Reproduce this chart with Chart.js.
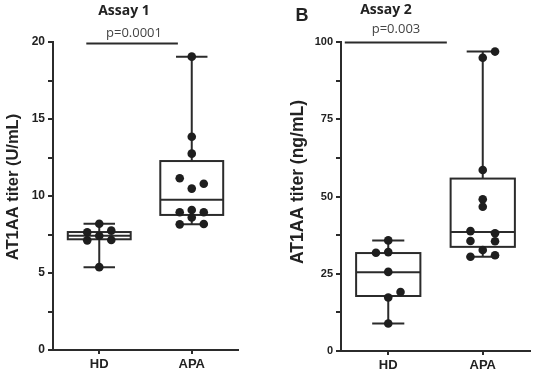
<!DOCTYPE html>
<html lang="en">
<head>
<meta charset="UTF-8">
<title>AT1AA titer</title>
<style>
    body { margin: 0; background: #fff; }
    .wrap { position: relative; width: 540px; height: 374px; }
    canvas { position: absolute; top: 0; }
    #assay1 { left: 0; }
    #assay2 { left: 270px; }
</style>
</head>
<body>
<div class="wrap">
    <canvas id="assay1" width="270" height="374"></canvas>
    <canvas id="assay2" width="270" height="374"></canvas>
</div>
<script src="https://cdn.jsdelivr.net/npm/chart.js"></script>
<script>
// groups
const groups = ['HD', 'APA'];

// Assay 1 (U/mL) - individual values and swarm lane of each dot
const hd1 = [8.2, 7.75, 7.64, 7.42, 7.14, 7.12, 5.38];
const hd1Lane = [0, 1, -1, 0, 1, -1, 0];
const apa1 = [19.05, 13.85, 12.75, 11.15, 10.8, 10.48, 9.09, 8.94, 8.94, 8.6, 8.18, 8.16];
const apa1Lane = [0, 0, 0, -1, 1, 0, 0, -1, 1, 0, 1, -1];
// box stats: min, q1, median, q3, max
const hd1Box = [5.38, 7.19, 7.42, 7.66, 8.2];
const apa1Box = [8.16, 8.77, 9.76, 12.27, 19.05];

// Assay 2 (ng/mL)
const hd2 = [35.8, 32.0, 31.8, 25.6, 19.1, 17.3, 8.9];
const hd2Lane = [0, 0, -1, 0, 1, 0, 0];
const apa2 = [96.9, 94.9, 58.6, 49.1, 46.7, 38.8, 38.1, 35.6, 35.5, 32.7, 31.0, 30.5];
const apa2Lane = [1, 0, 0, 0, 0, -1, 1, -1, 1, 0, 1, -1];
const hd2Box = [8.9, 17.8, 25.5, 31.7, 35.8];
const apa2Box = [30.5, 33.7, 38.5, 55.8, 96.9];

const INK = '#2b2b2b';
const LANE_W = 0.13;
const BOX_HALF = 0.34;
const CAP_HALF = 0.17;

function dots(values, lanes, pos) {
    return values.map((v, i) => ({ x: pos + lanes[i] * LANE_W, y: v }));
}

const boxPlugin = {
    id: 'boxes',
    beforeDatasetsDraw(chart) {
        const { ctx } = chart;
        const xs = chart.scales.x, ys = chart.scales.y;
        const boxes = chart.options.plugins.boxes.data;
        ctx.save();
        ctx.strokeStyle = INK;
        ctx.lineWidth = 2;
        boxes.forEach((b, i) => {
            const cx = xs.getPixelForValue(i + 1);
            const half = xs.getPixelForValue(i + 1 + BOX_HALF) - cx;
            const cap = xs.getPixelForValue(i + 1 + CAP_HALF) - cx;
            const [mn, q1, md, q3, mx] = b.map(v => ys.getPixelForValue(v));
            // whiskers
            ctx.beginPath();
            ctx.moveTo(cx, mn); ctx.lineTo(cx, q1);
            ctx.moveTo(cx, q3); ctx.lineTo(cx, mx);
            ctx.moveTo(cx - cap, mn); ctx.lineTo(cx + cap, mn);
            ctx.moveTo(cx - cap, mx); ctx.lineTo(cx + cap, mx);
            ctx.stroke();
            ctx.fillStyle = '#fff';
            ctx.fillRect(cx - half, q3, half * 2, q1 - q3);
            ctx.strokeRect(cx - half, q3, half * 2, q1 - q3);
            ctx.beginPath();
            ctx.moveTo(cx - half, md); ctx.lineTo(cx + half, md);
            ctx.stroke();
        });
        ctx.restore();
    },
    afterDraw(chart) {
        const { ctx } = chart;
        const o = chart.options.plugins.boxes;
        const xs = chart.scales.x, ys = chart.scales.y;
        ctx.save();
        // significance bar
        ctx.strokeStyle = INK;
        ctx.lineWidth = 2;
        ctx.beginPath();
        const yb = ys.getPixelForValue(o.bar.y);
        ctx.moveTo(xs.getPixelForValue(o.bar.from), yb);
        ctx.lineTo(xs.getPixelForValue(o.bar.to), yb);
        ctx.stroke();
        ctx.fillStyle = '#222';
        ctx.textAlign = 'center';
        ctx.textBaseline = 'middle';
        ctx.font = 'bold 14px "Open Sans"';
        ctx.fillText(o.title, o.titleAt[0], o.titleAt[1]);
        ctx.fillStyle = '#444';
        ctx.font = '13px "Open Sans"';
        ctx.fillText(o.pText, o.pAt[0], o.pAt[1]);
        if (o.letter) {
            ctx.fillStyle = '#222';
            ctx.font = 'bold 18px "Liberation Sans"';
            ctx.fillText(o.letter, o.letterAt[0], o.letterAt[1]);
        }
        // y axis title
        ctx.translate(o.yTitleAt[0], o.yTitleAt[1]);
        ctx.rotate(-Math.PI / 2);
        ctx.font = o.yTitleFont;
        ctx.fillStyle = '#222';
        ctx.fillText(o.yTitle, 0, 0);
        ctx.restore();
    }
};

function makeChart(id, cfg) {
    return new Chart(document.getElementById(id), {
        type: 'scatter',
        data: {
            datasets: [{
                data: dots(cfg.hd, cfg.hdLane, 1).concat(dots(cfg.apa, cfg.apaLane, 2)),
                backgroundColor: '#1e1e1e',
                borderWidth: 0,
                pointRadius: 4.3,
                pointHoverRadius: 4.3
            }]
        },
        options: {
            responsive: false,
            devicePixelRatio: 1,
            animation: false,
            layout: { padding: { top: 42, right: cfg.padRight, left: 0, bottom: 0 } },
            plugins: {
                legend: { display: false },
                tooltip: { enabled: false },
                boxes: cfg.boxes
            },
            scales: {
                x: {
                    type: 'linear',
                    min: 0.5, max: 2.5,
                    afterBuildTicks: s => { s.ticks = [{ value: 1 }, { value: 2 }]; },
                    afterFit: s => { s.height = cfg.xHeight; },
                    border: { color: INK, width: 2 },
                    grid: { drawOnChartArea: false, tickLength: 4, color: INK, lineWidth: 2 },
                    ticks: {
                        padding: 3,
                        color: '#222',
                        font: { family: 'Liberation Sans', weight: 'bold', size: 13 },
                        callback: v => groups[v - 1]
                    }
                },
                y: {
                    min: 0, max: cfg.yMax,
                    afterFit: s => { s.width = cfg.yWidth; },
                    border: { color: INK, width: 2 },
                    grid: { drawOnChartArea: false, tickLength: 5, color: INK, lineWidth: 2 },
                    ticks: {
                        stepSize: cfg.yStep / 2,
                        padding: 3,
                        color: '#222',
                        font: { family: 'Liberation Sans', weight: 'bold', size: cfg.tickSize },
                        callback: v => (v % cfg.yStep === 0 ? String(v) : '')
                    }
                }
            }
        },
        plugins: [boxPlugin]
    });
}

makeChart('assay1', {
    hd: hd1, hdLane: hd1Lane, apa: apa1, apaLane: apa1Lane,
    yMax: 20, yStep: 5, yWidth: 53, xHeight: 24, padRight: 32, tickSize: 12,
    boxes: {
        data: [hd1Box, apa1Box],
        bar: { from: 0.86, to: 1.85, y: 19.9 },
        title: 'Assay 1', titleAt: [124, 11],
        pText: 'p=0.0001', pAt: [134, 33],
        yTitle: 'AT1AA titer (U/mL)', yTitleAt: [13, 187],
        yTitleFont: 'bold 16.5px "Liberation Sans"'
    }
});

makeChart('assay2', {
    hd: hd2, hdLane: hd2Lane, apa: apa2, apaLane: apa2Lane,
    yMax: 100, yStep: 25, yWidth: 71, xHeight: 23, padRight: 10, tickSize: 11,
    boxes: {
        data: [hd2Box, apa2Box],
        bar: { from: 0.54, to: 1.62, y: 99.8 },
        title: 'Assay 2', titleAt: [116, 10],
        pText: 'p=0.003', pAt: [126, 29],
        letter: 'B', letterAt: [32, 16],
        yTitle: 'AT1AA titer (ng/mL)', yTitleAt: [28, 182],
        yTitleFont: 'bold 17.5px "Liberation Sans"'
    }
});
</script>
</body>
</html>
